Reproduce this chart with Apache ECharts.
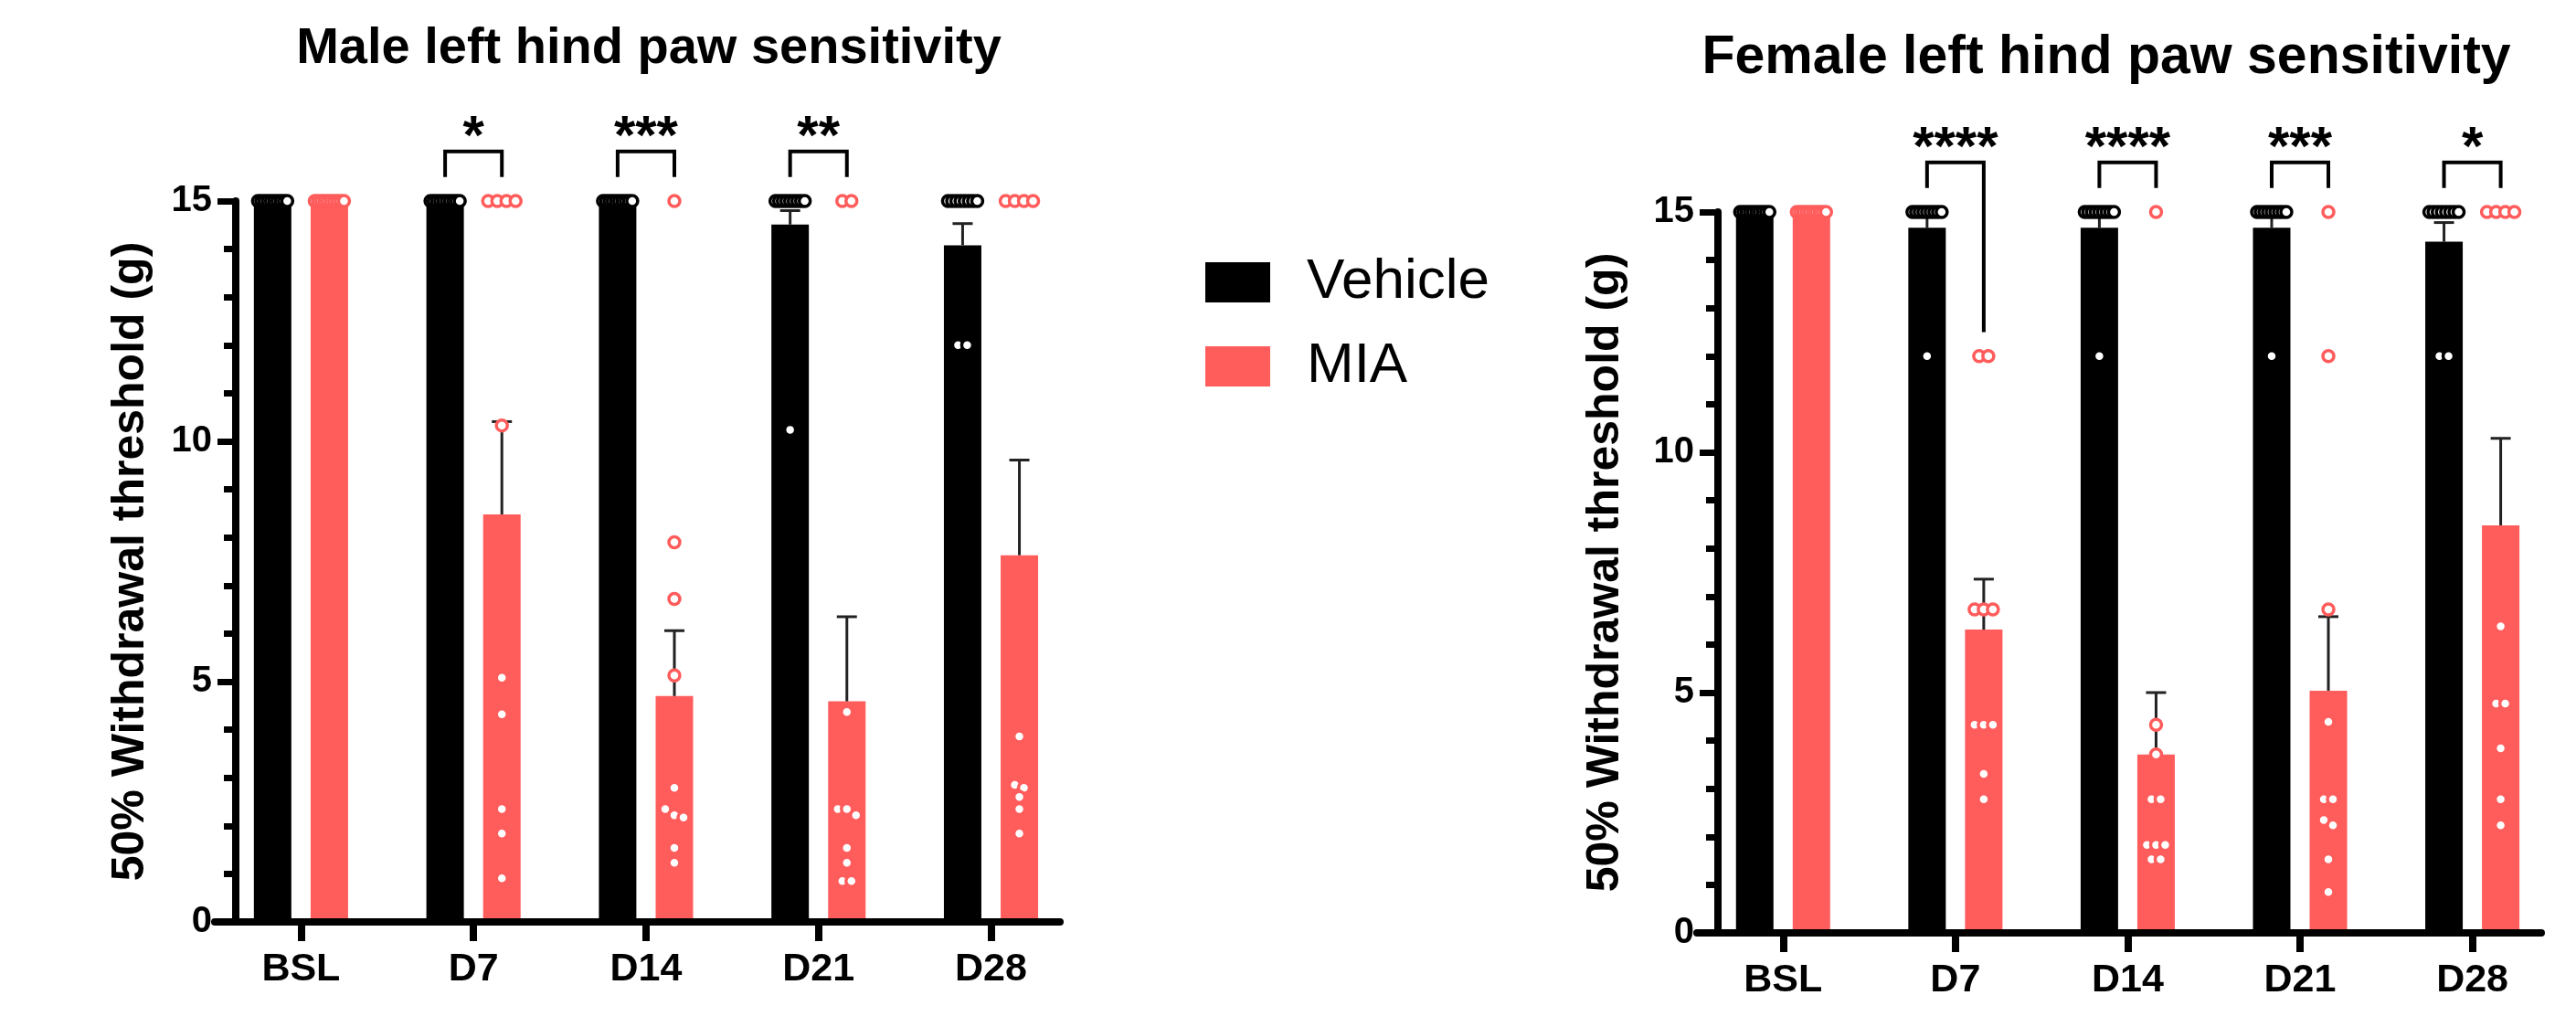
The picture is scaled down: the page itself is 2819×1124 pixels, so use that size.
<!DOCTYPE html>
<html>
<head>
<meta charset="utf-8">
<script src="https://cdn.jsdelivr.net/npm/echarts@6/dist/echarts.min.js"></script>
<style>
html,body{margin:0;padding:0;background:#fff;}
#chart{width:2819px;height:1124px;}
</style>
</head>
<body>
<div id="chart"></div>
<script>
// ---------------- data ----------------
const categories = ['BSL', 'D7', 'D14', 'D21', 'D28'];
const yTicks = [0, 5, 10, 15];

const maleVehicleMean = [15, 15, 15, 14.51, 14.08];
const maleVehicleSem  = [0, 0, 0, 0.29, 0.45];
const maleMiaMean     = [15, 8.48, 4.70, 4.59, 7.63];
const maleMiaSem      = [0, 1.93, 1.36, 1.76, 1.98];
const maleVehiclePoints = [
  [15,15,15,15,15,15,15,15,15,15],
  [15,15,15,15,15,15,15,15,15,15],
  [15,15,15,15,15,15,15,15,15,15],
  [15,15,15,15,15,15,15,15,15,10.24],
  [15,15,15,15,15,15,15,15,12,12]
];
const maleMiaPoints = [
  [15,15,15,15,15,15,15,15,15,15],
  [15,15,15,15,10.33,5.08,4.32,2.35,1.84,0.91],
  [15,7.90,6.72,5.13,2.79,2.35,2.22,2.17,1.54,1.23],
  [15,15,4.37,2.35,2.35,2.22,1.54,1.23,0.85,0.85],
  [15,15,15,15,3.86,2.85,2.79,2.6,2.35,1.84]
];
const maleSig = ['', '*', '***', '**', ''];

const femaleVehicleMean = [15, 14.67, 14.67, 14.67, 14.38];
const femaleVehicleSem  = [0, 0.24, 0.25, 0.25, 0.40];
const femaleMiaMean     = [15, 6.31, 3.71, 5.04, 8.48];
const femaleMiaSem      = [0, 1.05, 1.29, 1.54, 1.81];
const femaleVehiclePoints = [
  [15,15,15,15,15,15,15,15,15,15],
  [15,15,15,15,15,15,15,15,15,12],
  [15,15,15,15,15,15,15,15,15,12],
  [15,15,15,15,15,15,15,15,15,12],
  [15,15,15,15,15,15,15,15,12,12]
];
const femaleMiaPoints = [
  [15,15,15,15,15,15,15,15,15,15],
  [12,12,6.73,6.73,6.73,4.33,4.33,4.33,3.31,2.78],
  [15,4.33,3.71,2.78,2.78,1.83,1.83,1.83,1.53,1.53],
  [15,12,6.73,4.39,2.78,2.78,2.35,2.24,1.53,0.85],
  [15,15,15,15,6.38,4.77,4.77,3.84,2.78,2.24]
];
const femaleSig = ['', '****', '****', '***', '*'];

const seriesNames = ['Vehicle', 'MIA'];
const titles = ['Male left hind paw sensitivity', 'Female left hind paw sensitivity'];
const yName = '50% Withdrawal threshold (g)';

// ---------------- style / layout ----------------
const FONT = "'Liberation Sans', Arial, Helvetica, sans-serif";
const COLORS = ['#000000', '#FF5C5C'];
const OFF = 0.1645;          // bar centre offset from category centre (category units)
const BAR_W = 41;            // px
const PX_PER_UNIT_Y = 789 / 15;
const BR_TOP = 16.03, BR_LEG = 15.5, STAR_Y = 16.3;

const panels = [
  { vm: maleVehicleMean, vs: maleVehicleSem, mm: maleMiaMean, ms: maleMiaSem,
    vp: maleVehiclePoints, mp: maleMiaPoints, sig: maleSig, legOverride: {},
    grid: { left: 235, top: 220, width: 925, height: 789 },
    titleX: 705, titleY: 21, titleSize: 56, nameGap: 90 },
  { vm: femaleVehicleMean, vs: femaleVehicleSem, mm: femaleMiaMean, ms: femaleMiaSem,
    vp: femaleVehiclePoints, mp: femaleMiaPoints, sig: femaleSig, legOverride: { 1: 12.5 },
    grid: { left: 1857, top: 232, width: 924, height: 789 },
    titleX: 2300, titleY: 29, titleSize: 59, nameGap: 98 }
];

// place points of equal / close value side by side (beeswarm-like)
function swarm(values) {
  const sorted = values.slice().sort((a, b) => b - a);
  const out = [];
  let group = [];
  const flush = () => {
    const n = group.length;
    const sp = n > 1 ? Math.min(10, 32 / (n - 1)) : 0;
    group.forEach((v, k) => out.push({ v: v, dx: (k - (n - 1) / 2) * sp }));
    group = [];
  };
  sorted.forEach(v => {
    if (group.length && (group[group.length - 1] - v) * PX_PER_UNIT_Y > 9) flush();
    group.push(v);
  });
  flush();
  return out;
}

function barRender(color) {
  return function (params, api) {
    const x = api.value(0), y = api.value(1);
    const p1 = api.coord([x, y]);
    const p0 = api.coord([x, 0]);
    return { type: 'rect', shape: { x: p1[0] - BAR_W / 2, y: p1[1], width: BAR_W, height: p0[1] - p1[1] },
             style: { fill: color } };
  };
}

function errRender(params, api) {
  const x = api.value(0), m = api.value(1), s = api.value(2);
  if (!s) return null;
  const a = api.coord([x, m]), b = api.coord([x, m + s]);
  const st = { stroke: '#222', lineWidth: 3 };
  return { type: 'group', children: [
    { type: 'line', shape: { x1: a[0], y1: a[1], x2: b[0], y2: b[1] }, style: st },
    { type: 'line', shape: { x1: b[0] - 11, y1: b[1], x2: b[0] + 11, y2: b[1] }, style: st }
  ] };
}

function bracketRender(sig) {
  return function (params, api) {
    const c = api.value(0);
    const lb = api.coord([c - OFF, api.value(1)]);
    const rb = api.coord([c + OFF, api.value(2)]);
    const lt = api.coord([c - OFF, BR_TOP]);
    const rt = api.coord([c + OFF, BR_TOP]);
    const t = api.coord([c, STAR_Y]);
    return { type: 'group', children: [
      { type: 'polyline', shape: { points: [lb, lt, rt, rb] },
        style: { stroke: '#000', lineWidth: 4, fill: null } },
      { type: 'text', x: t[0], y: t[1],
        style: { text: sig[c], fontSize: 60, fontWeight: 'bold', fontFamily: FONT, fill: '#000',
                 align: 'center', verticalAlign: 'middle' } }
    ] };
  };
}

const option = {
  animation: false,
  backgroundColor: '#fff',
  title: panels.map((p, i) => ({
    text: titles[i], left: p.titleX, top: p.titleY, textAlign: 'center',
    textStyle: { fontFamily: FONT, fontSize: p.titleSize, fontWeight: 'bold', color: '#000' }
  })),
  legend: {
    orient: 'vertical', left: 1319, top: 278, padding: 0,
    itemWidth: 71, itemHeight: 44, itemGap: 30,
    data: seriesNames.map(n => ({ name: n, icon: 'rect' })),
    textStyle: { fontFamily: FONT, fontSize: 62, color: '#000', padding: [0, 0, 0, 35] },
    selectedMode: false
  },
  grid: panels.map(p => Object.assign({ containLabel: false }, p.grid)),
  xAxis: panels.map((p, i) => ({
    type: 'value', gridIndex: i, min: -0.5, max: 4.4, z: 10,
    splitLine: { show: false },
    axisLine: { show: true, onZero: false, lineStyle: { color: '#000', width: 8 } },
    axisTick: { show: true, customValues: [0, 1, 2, 3, 4], length: 21, lineStyle: { color: '#000', width: 8 } },
    axisLabel: { show: true, customValues: [0, 1, 2, 3, 4], formatter: v => categories[Math.round(v)],
                 margin: 31, fontFamily: FONT, fontSize: 43, fontWeight: 'bold', color: '#000' }
  })),
  yAxis: panels.map((p, i) => ({
    type: 'value', gridIndex: i, min: 0, max: 15, interval: 5, offset: -23, z: 10,
    name: yName, nameLocation: 'middle', nameGap: p.nameGap,
    nameTextStyle: { fontFamily: FONT, fontSize: 50, fontWeight: 'bold', color: '#000' },
    splitLine: { show: false },
    axisLine: { show: true, onZero: false, lineStyle: { color: '#000', width: 8 } },
    axisTick: { show: true, length: 20, lineStyle: { color: '#000', width: 7 } },
    minorTick: { show: true, splitNumber: 5, length: 13, lineStyle: { color: '#000', width: 7 } },
    axisLabel: { margin: 26, fontFamily: FONT, fontSize: 40, fontWeight: 'bold', color: '#000',
                 customValues: yTicks }
  })),
  series: []
};

panels.forEach((p, i) => {
  const ax = { xAxisIndex: i, yAxisIndex: i };
  const groups = [
    { mean: p.vm, sem: p.vs, pts: p.vp, sign: -1 },
    { mean: p.mm, sem: p.ms, pts: p.mp, sign: 1 }
  ];
  groups.forEach((g, gi) => {
    option.series.push(Object.assign({
      type: 'custom', name: seriesNames[gi], z: 2, clip: false,
      itemStyle: { color: COLORS[gi] },
      renderItem: barRender(COLORS[gi]),
      data: g.mean.map((m, c) => [c + g.sign * OFF, m])
    }, ax));
  });
  groups.forEach((g, gi) => {
    option.series.push(Object.assign({
      type: 'custom', name: seriesNames[gi] + ' SEM', z: 3, clip: false,
      renderItem: errRender,
      data: g.mean.map((m, c) => [c + g.sign * OFF, m, g.sem[c]])
    }, ax));
  });
  groups.forEach((g, gi) => {
    const data = [];
    g.pts.forEach((vals, c) => {
      swarm(vals).forEach(pt => data.push({ value: [c + g.sign * OFF, pt.v], symbolOffset: [pt.dx, 0] }));
    });
    option.series.push(Object.assign({
      type: 'scatter', name: seriesNames[gi] + ' points', z: 4, clip: false,
      symbol: 'circle', symbolSize: 12,
      itemStyle: { color: '#fff', borderColor: COLORS[gi], borderWidth: 3.5, opacity: 1 },
      emphasis: { disabled: true },
      data: data
    }, ax));
  });
  const br = [];
  p.sig.forEach((s, c) => {
    if (s) br.push([c, BR_LEG, p.legOverride[c] !== undefined ? p.legOverride[c] : BR_LEG]);
  });
  option.series.push(Object.assign({
    type: 'custom', name: 'significance', z: 5, clip: false,
    renderItem: bracketRender(p.sig),
    data: br
  }, ax));
});

const chart = echarts.init(document.getElementById('chart'), null, { renderer: 'canvas' });
chart.setOption(option);
</script>
</body>
</html>
